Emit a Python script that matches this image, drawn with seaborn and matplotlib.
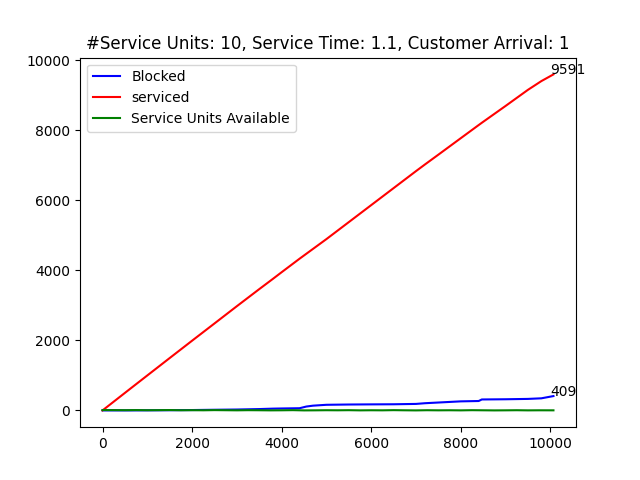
"""
Blocked vs serviced customers over time (queue simulation result)
"""
import matplotlib
matplotlib.use("Agg")
import matplotlib.pyplot as plt
import seaborn as sns

# time checkpoints
time = [0, 300, 600, 1000, 1500, 2000, 2500, 3000, 3500, 3800, 4000, 4400,
        4550, 4700, 5000, 5500, 6000, 6500, 7000, 7200, 7500, 8000, 8400,
        8470, 9000, 9500, 9800, 10070]

# cumulative blocked customers
blocked = [0, 0, 0, 2, 5, 10, 18, 25, 38, 50, 55, 62,
           110, 135, 160, 168, 172, 175, 185, 205, 225, 258, 268,
           312, 318, 328, 345, 409]

# cumulative serviced customers
serviced = [0, 300, 600, 998, 1495, 1990, 2482, 2975, 3462, 3750, 3945, 4330,
            4470, 4610, 4890, 5375, 5860, 6345, 6830, 7020, 7300, 7770, 8145,
            8210, 8690, 9150, 9400, 9591]

# service units free at each checkpoint
units_time = [0, 250, 500, 750, 1000, 1250, 1500, 1750, 2000, 2250, 2500,
              2750, 3000, 3250, 3500, 3750, 4000, 4250, 4500, 4750, 5000,
              5250, 5500, 5750, 6000, 6250, 6500, 6750, 7000, 7250, 7500,
              7750, 8000, 8250, 8500, 8750, 9000, 9250, 9500, 9750, 10070]
units_available = [10, 8, 6, 9, 5, 7, 10, 4, 6, 3, 8, 5, 2, 6, 4, 1, 3, 7,
                   0, 2, 5, 3, 6, 1, 4, 2, 7, 3, 0, 5, 2, 4, 1, 6, 3, 0, 2,
                   5, 1, 3, 2]

fig, ax = plt.subplots(figsize=(6.4, 4.8), dpi=100)

sns.lineplot(x=time, y=blocked, color="blue", label="Blocked", ax=ax)
sns.lineplot(x=time, y=serviced, color="red", label="serviced", ax=ax)
sns.lineplot(x=units_time, y=units_available, color="green",
             label="Service Units Available", ax=ax)

# final counts
ax.text(10000, serviced[-1], str(serviced[-1]))
ax.text(10000, blocked[-1], str(blocked[-1]))

ax.set_title("#Service Units: 10, Service Time: 1.1, Customer Arrival: 1")
ax.legend(loc="upper left")

fig.savefig("out.png")
